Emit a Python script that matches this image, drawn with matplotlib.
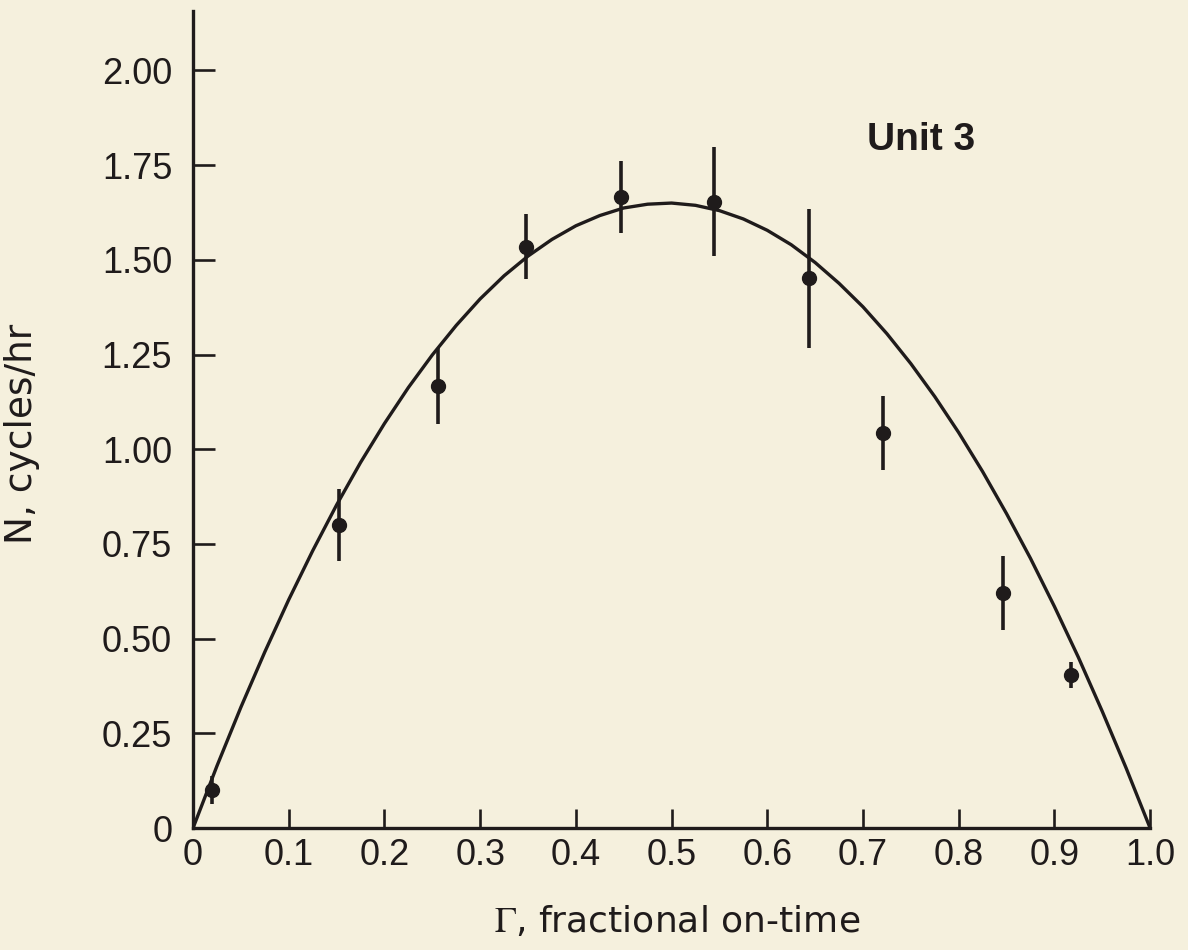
# plotting packages
import matplotlib
matplotlib.use("Agg")
import matplotlib.pyplot as plt

# measured points (Unit 3)
gamma_pts = [0.02, 0.153, 0.256, 0.348, 0.447, 0.544, 0.644, 0.721, 0.846, 0.917]
cycles_pts = [0.10, 0.80, 1.167, 1.535, 1.665, 1.654, 1.451, 1.042, 0.621, 0.404]
cycles_err = [0.037, 0.095, 0.10, 0.086, 0.095, 0.143, 0.183, 0.098, 0.098, 0.035]

# fitted curve
gamma_fit = [0.0, 0.025, 0.05, 0.075, 0.1, 0.125, 0.15, 0.175, 0.2, 0.225,
             0.25, 0.275, 0.3, 0.325, 0.35, 0.375, 0.4, 0.425, 0.45, 0.475,
             0.5, 0.525, 0.55, 0.575, 0.6, 0.625, 0.65, 0.675, 0.7, 0.725,
             0.75, 0.775, 0.8, 0.825, 0.85, 0.875, 0.9, 0.925, 0.95, 0.975, 1.0]
cycles_fit = [0.0, 0.164, 0.319, 0.465, 0.603, 0.732, 0.853, 0.965, 1.068, 1.163,
              1.249, 1.327, 1.397, 1.458, 1.510, 1.554, 1.590, 1.617, 1.637, 1.647,
              1.650, 1.644, 1.630, 1.608, 1.578, 1.540, 1.493, 1.438, 1.376, 1.305,
              1.226, 1.139, 1.044, 0.941, 0.830, 0.712, 0.585, 0.451, 0.308, 0.158, 0.0]

x_ticks = [0, 0.1, 0.2, 0.3, 0.4, 0.5, 0.6, 0.7, 0.8, 0.9, 1.0]
x_labels = ['0', '0.1', '0.2', '0.3', '0.4', '0.5', '0.6', '0.7', '0.8', '0.9', '1.0']
y_ticks = [0, 0.25, 0.5, 0.75, 1.0, 1.25, 1.5, 1.75, 2.0]
y_labels = ['0', '0.25', '0.50', '0.75', '1.00', '1.25', '1.50', '1.75', '2.00']


def unit3_plot():
    bg = '#f5f0dd'
    ink = '#1f1b1b'
    plt.rcParams['mathtext.fontset'] = 'stix'

    fig = plt.figure(figsize=(11.88, 9.5), dpi=100, facecolor=bg)
    ax = fig.add_axes([0.1625, 0.1284, 0.8056, 0.86])
    ax.set_facecolor(bg)

    ax.plot(gamma_fit, cycles_fit, color=ink, lw=2.4,
            solid_capstyle='round', solid_joinstyle='round')
    ax.errorbar(gamma_pts, cycles_pts, yerr=cycles_err, fmt='o', color=ink,
                ms=10, elinewidth=2.6, capsize=0)

    ax.set_xlim(0, 1.0)
    ax.set_ylim(0, 2.157)
    ax.spines['top'].set_visible(False)
    ax.spines['right'].set_visible(False)
    ax.spines['left'].set_linewidth(2.4)
    ax.spines['bottom'].set_linewidth(2.4)
    ax.spines['left'].set_color(ink)
    ax.spines['bottom'].set_color(ink)

    ax.set_xticks(x_ticks)
    ax.set_xticklabels(x_labels, fontsize=26, family='Liberation Sans', color=ink)
    ax.set_yticks(y_ticks)
    ax.set_yticklabels(y_labels, fontsize=26, family='Liberation Sans', color=ink)
    ax.tick_params(axis='x', direction='in', length=14, width=1.9, pad=7, color=ink)
    ax.tick_params(axis='y', direction='in', length=16, width=1.9, pad=15, color=ink)

    ax.set_xlabel(r'$\Gamma$, fractional on-time', fontsize=26, color=ink, va='center')
    ax.xaxis.set_label_coords(0.506, -0.115)
    ax.set_ylabel('N, cycles/hr', fontsize=27, color=ink, va='center')
    ax.yaxis.set_label_coords(-0.179, 0.483)

    ax.text(0.761, 1.817, 'Unit 3', fontsize=28, fontweight='bold',
            family='Liberation Sans', color=ink, ha='center', va='center')

    fig.savefig('out.png', dpi=100, facecolor=bg)


unit3_plot()
